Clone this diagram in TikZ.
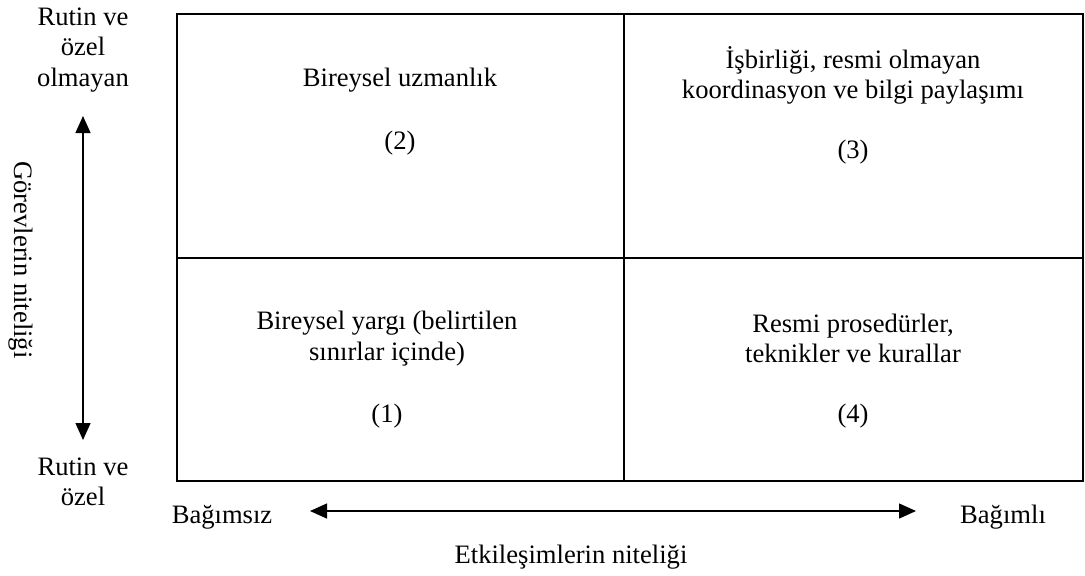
\documentclass[tikz,border=0pt]{standalone}
\usepackage{fontspec}
\setmainfont{Liberation Serif}
\usetikzlibrary{positioning, arrows.meta}

\begin{document}
\begin{tikzpicture}[
    x=0.5pt, y=-0.5pt,
    frame/.style={draw=black, line width=0.9pt},
    divider/.style={draw=black, line width=0.7pt},
    axisarrow/.style={{Triangle[length=8.5pt,width=7.5pt]}-{Triangle[length=8.5pt,width=7.5pt]}, line width=0.65pt},
    lbl/.style={align=center, inner sep=0pt, font=\fontsize{13.3}{15.3}\selectfont},
  ]
  \useasboundingbox (0,0) rectangle (1085,575);

  % matrix of the four cells
  \coordinate (nw) at (177,14);
  \coordinate (se) at (1083,481);
  \draw[frame] (nw) rectangle (se);
  \draw[divider] (624,14) -- (624,481);
  \draw[divider] (177,258) -- (1083,258);

  \node[lbl] (uzman) at (400,80) {Bireysel uzmanlık};
  \node[lbl] (num2) at (400,143) {(2)};
  \node[lbl] (isbirligi) at (853,75.5) {İşbirliği, resmi olmayan\\koordinasyon ve bilgi paylaşımı};
  \node[lbl] (num3) at (853,152) {(3)};
  \node[lbl] (yargi) at (387,338.5) {Bireysel yargı (belirtilen\\sınırlar içinde)};
  \node[lbl] (num1) at (387,416) {(1)};
  \node[lbl] (prosedur) at (853,338.5) {Resmi prosedürler,\\teknikler ve kurallar};
  \node[lbl] (num4) at (853,416) {(4)};

  % vertical axis
  \node[lbl] (ustuc) at (83,50) {Rutin ve\\özel\\olmayan};
  \node[lbl] (altuc) at (83,482) {Rutin ve\\özel};
  \node[lbl, rotate=-90] (gorev) at (21,260) {Görevlerin niteliği};
  \coordinate (vtop) at (83,116);
  \coordinate (vbot) at (83,440);
  \draw[axisarrow] (vtop) -- (vbot);

  % horizontal axis
  \node[lbl] (bagimsiz) at (222,517) {Bağımsız};
  \node[lbl] (bagimli) at (1003,517) {Bağımlı};
  \node[lbl] (etkilesim) at (571,557) {Etkileşimlerin niteliği};
  \coordinate (hleft) at (310,511);
  \coordinate (hright) at (916,511);
  \draw[axisarrow] (hleft) -- (hright);

\end{tikzpicture}
\end{document}
